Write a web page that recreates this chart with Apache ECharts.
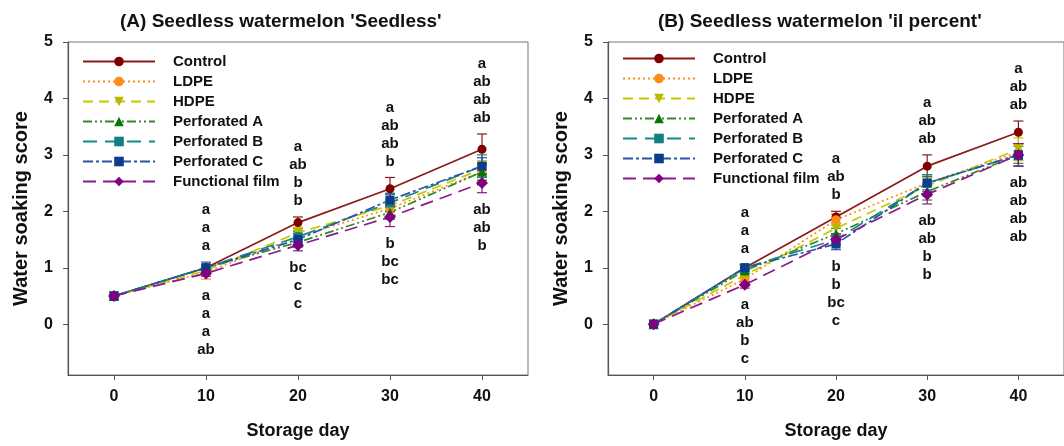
<!DOCTYPE html>
<html>
<head>
<meta charset="utf-8">
<script src="https://cdn.jsdelivr.net/npm/echarts@6/dist/echarts.min.js"></script>
<style>
  html, body { margin: 0; padding: 0; background: #fff; }
  #chart { width: 1064px; height: 446px; }
</style>
</head>
<body>
<div id="chart"></div>
<script>
// storage days and treatments
const days = [0, 10, 20, 30, 40]
const treatments = ['Control', 'LDPE', 'HDPE', 'Perforated A', 'Perforated B', 'Perforated C', 'Functional film']
const dayTicks = [0, 10, 20, 30, 40]
const scoreTicks = [0, 1, 2, 3, 4, 5]

// (A) 'Seedless' - means
const meanA_control = [0.5, 1.0, 1.8, 2.4, 3.1]
const meanA_ldpe = [0.5, 0.92, 1.55, 2.05, 2.7]
const meanA_hdpe = [0.5, 0.95, 1.62, 2.1, 2.75]
const meanA_perfA = [0.5, 1.0, 1.45, 1.98, 2.7]
const meanA_perfB = [0.5, 1.0, 1.55, 2.15, 2.8]
const meanA_perfC = [0.5, 1.0, 1.5, 2.2, 2.8]
const meanA_func = [0.5, 0.9, 1.4, 1.9, 2.5]
// (A) error bars
const sdA_control = [0, 0.05, 0.1, 0.2, 0.27]
const sdA_ldpe = [0, 0.12, 0.1, 0.15, 0.15]
const sdA_hdpe = [0, 0.05, 0.1, 0.12, 0.15]
const sdA_perfA = [0, 0.05, 0.08, 0.12, 0.15]
const sdA_perfB = [0, 0.05, 0.1, 0.15, 0.2]
const sdA_perfC = [0, 0.1, 0.1, 0.12, 0.15]
const sdA_func = [0, 0.05, 0.1, 0.17, 0.17]
// (A) letters above / below each day
const lettersA_above = [[], ['a', 'a', 'a'], ['a', 'ab', 'b', 'b'], ['a', 'ab', 'ab', 'b'], ['a', 'ab', 'ab', 'ab']]
const lettersA_below = [[], ['a', 'a', 'a', 'ab'], ['bc', 'c', 'c'], ['b', 'bc', 'bc'], ['ab', 'ab', 'b']]

// (B) 'il percent' - means
const meanB_control = [0, 1.0, 1.9, 2.8, 3.4]
const meanB_ldpe = [0, 0.8, 1.85, 2.5, 3.05]
const meanB_hdpe = [0, 0.87, 1.7, 2.45, 3.1]
const meanB_perfA = [0, 0.95, 1.6, 2.35, 3.0]
const meanB_perfB = [0, 1.0, 1.5, 2.5, 3.0]
const meanB_perfC = [0, 1.0, 1.42, 2.5, 3.0]
const meanB_func = [0, 0.7, 1.5, 2.3, 3.0]
// (B) error bars
const sdB_control = [0, 0.05, 0.1, 0.2, 0.2]
const sdB_ldpe = [0, 0.05, 0.1, 0.15, 0.15]
const sdB_hdpe = [0, 0.05, 0.1, 0.15, 0.2]
const sdB_perfA = [0, 0.05, 0.1, 0.15, 0.2]
const sdB_perfB = [0, 0.05, 0.1, 0.15, 0.15]
const sdB_perfC = [0, 0.05, 0.1, 0.12, 0.2]
const sdB_func = [0, 0.06, 0.1, 0.17, 0.2]
const lettersB_above = [[], ['a', 'a', 'a'], ['a', 'ab', 'b'], ['a', 'ab', 'ab'], ['a', 'ab', 'ab']]
const lettersB_below = [[], ['a', 'ab', 'b', 'c'], ['b', 'b', 'bc', 'c'], ['ab', 'ab', 'b', 'b'], ['ab', 'ab', 'ab', 'ab']]

const styles = [
  { line: '#8b1a1a', mark: '#800000', type: 'solid', symbol: 'circle', size: 9, rotate: 0 },
  { line: '#ff8c1a', mark: '#ff8c1a', type: [2, 3], symbol: 'circle', size: 9, rotate: 0 },
  { line: '#c8c800', mark: '#b8b800', type: [10, 6], symbol: 'triangle', size: 10, rotate: 180 },
  { line: '#2e8b22', mark: '#007a00', type: [9, 3, 2, 3, 2, 3], symbol: 'triangle', size: 10, rotate: 0 },
  { line: '#128b8b', mark: '#128080', type: [14, 8], symbol: 'rect', size: 9, rotate: 0 },
  { line: '#2a55a5', mark: '#0b3d8c', type: [10, 3, 3, 3], symbol: 'rect', size: 9, rotate: 0 },
  { line: '#8b1a8b', mark: '#800080', type: [13, 7], symbol: 'diamond', size: 12, rotate: 0 }
]

const meansA = [meanA_control, meanA_ldpe, meanA_hdpe, meanA_perfA, meanA_perfB, meanA_perfC, meanA_func]
const sdsA = [sdA_control, sdA_ldpe, sdA_hdpe, sdA_perfA, sdA_perfB, sdA_perfC, sdA_func]
const meansB = [meanB_control, meanB_ldpe, meanB_hdpe, meanB_perfA, meanB_perfB, meanB_perfC, meanB_func]
const sdsB = [sdB_control, sdB_ldpe, sdB_hdpe, sdB_perfA, sdB_perfB, sdB_perfC, sdB_func]

const font = 'Arial, "Liberation Sans", sans-serif'

const errorRender = color => (params, api) => {
  const x = api.value(0), m = api.value(1), s = api.value(2)
  if (!s) return
  const hi = api.coord([x, m + s]), lo = api.coord([x, m - s])
  const w = 5, st = { stroke: color, lineWidth: 1.2 }
  return {
    type: 'group',
    children: [
      { type: 'line', shape: { x1: hi[0], y1: hi[1], x2: lo[0], y2: lo[1] }, style: st },
      { type: 'line', shape: { x1: hi[0] - w, y1: hi[1], x2: hi[0] + w, y2: hi[1] }, style: st },
      { type: 'line', shape: { x1: lo[0] - w, y1: lo[1], x2: lo[0] + w, y2: lo[1] }, style: st }
    ]
  }
}

const letterRender = (above, below) => (params, api) => {
  const i = params.dataIndex
  const top = api.coord([api.value(0), api.value(1)])
  const bot = api.coord([api.value(0), api.value(2)])
  const children = []
  const up = above[i], down = below[i]
  up.forEach((t, k) => children.push({
    type: 'text',
    style: { text: t, x: top[0], y: top[1] - 16 - (up.length - 1 - k) * 18, align: 'center', verticalAlign: 'middle', font: 'bold 15px ' + font, fill: '#111' }
  }))
  down.forEach((t, k) => children.push({
    type: 'text',
    style: { text: t, x: bot[0], y: bot[1] + 17 + k * 18, align: 'center', verticalAlign: 'middle', font: 'bold 15px ' + font, fill: '#111' }
  }))
  return { type: 'group', children }
}

function panelSeries(idx, means, sds, above, below) {
  const out = []
  treatments.forEach((name, j) => {
    const s = styles[j]
    out.push({
      type: 'custom', xAxisIndex: idx, yAxisIndex: idx, z: 1, silent: true,
      renderItem: errorRender(s.line),
      data: days.map((d, k) => [d, means[j][k], sds[j][k]])
    })
  })
  treatments.forEach((name, j) => {
    const s = styles[j]
    out.push({
      name, type: 'line', xAxisIndex: idx, yAxisIndex: idx, z: 3,
      symbol: s.symbol, symbolSize: s.size, symbolRotate: s.rotate,
      lineStyle: { color: s.line, width: 1.7, type: s.type },
      itemStyle: { color: s.mark },
      data: days.map((d, k) => [d, means[j][k]])
    })
  })
  const tops = days.map((d, k) => Math.max(...means.map((m, j) => m[k] + sds[j][k])))
  const bots = days.map((d, k) => Math.min(...means.map((m, j) => m[k] - sds[j][k])))
  out.push({
    type: 'custom', xAxisIndex: idx, yAxisIndex: idx, z: 4, silent: true,
    renderItem: letterRender(above, below),
    data: days.map((d, k) => [d, tops[k], bots[k]])
  })
  return out
}

const axisText = { fontFamily: font, fontWeight: 'bold', fontSize: 16, color: '#111' }

function xAxis(idx) {
  return {
    type: 'value', gridIndex: idx, min: -5, max: 45,
    name: 'Storage day', nameLocation: 'middle', nameGap: 47,
    nameTextStyle: { fontFamily: font, fontWeight: 'bold', fontSize: 18, color: '#111' },
    axisLine: { onZero: false, lineStyle: { color: '#555', width: 1.2 } },
    axisTick: { inside: false, length: 5, customValues: dayTicks, lineStyle: { color: '#555' } },
    axisLabel: Object.assign({ margin: 14, customValues: dayTicks }, axisText),
    splitLine: { show: false }
  }
}
function yAxis(idx) {
  return {
    type: 'value', gridIndex: idx, min: -0.9, max: 5,
    name: 'Water soaking score', nameLocation: 'middle', nameGap: 37,
    nameTextStyle: { fontFamily: font, fontWeight: 'bold', fontSize: 20, color: '#111' },
    axisLine: { show: true, onZero: false, lineStyle: { color: '#555', width: 1.2 } },
    axisTick: { show: true, inside: false, length: 5, customValues: scoreTicks, lineStyle: { color: '#555' } },
    axisLabel: Object.assign({ margin: 15, customValues: scoreTicks }, axisText),
    splitLine: { show: false }
  }
}

function legend(left, top) {
  return {
    data: treatments, orient: 'vertical', left, top, padding: 0,
    itemWidth: 72, itemHeight: 12, itemGap: 5,
    selectedMode: false,
    textStyle: { fontFamily: font, fontWeight: 'bold', fontSize: 15, color: '#111', padding: [0, 0, 0, 13] }
  }
}

const chart = echarts.init(document.getElementById('chart'))
chart.setOption({
  animation: false,
  backgroundColor: '#fff',
  title: [
    { text: "(A) Seedless watermelon 'Seedless'", left: 115, top: 7, textStyle: { fontFamily: font, fontWeight: 'bold', fontSize: 19, color: '#111' } },
    { text: "(B) Seedless watermelon 'il percent'", left: 653, top: 7, textStyle: { fontFamily: font, fontWeight: 'bold', fontSize: 19, color: '#111' } }
  ],
  legend: [legend(82, 54), legend(622, 51)],
  grid: [
    { left: 68, top: 42, width: 460, height: 333, show: true, borderColor: '#777', borderWidth: 1 },
    { left: 608, top: 42, width: 461, height: 333, show: true, borderColor: '#777', borderWidth: 1 }
  ],
  xAxis: [xAxis(0), xAxis(1)],
  yAxis: [yAxis(0), yAxis(1)],
  series: [
    ...panelSeries(0, meansA, sdsA, lettersA_above, lettersA_below),
    ...panelSeries(1, meansB, sdsB, lettersB_above, lettersB_below)
  ]
})
</script>
</body>
</html>
